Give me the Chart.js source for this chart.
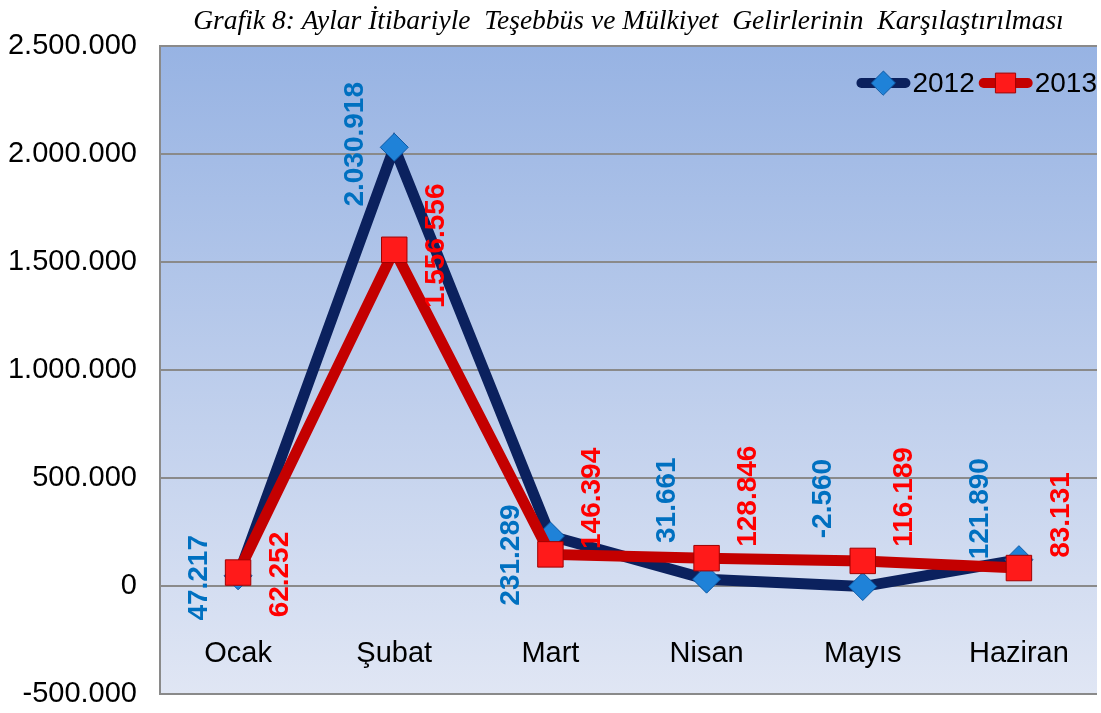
<!DOCTYPE html>
<html>
<head>
<meta charset="utf-8">
<script src="https://cdn.jsdelivr.net/npm/chart.js@4.4.1/dist/chart.umd.min.js"></script>
<style>
  body { margin: 0; background: #ffffff; }
  #grafik { display: block; }
</style>
</head>
<body>
<canvas id="grafik" width="1101" height="713"></canvas>
<script>
// aylar ve degerler
var months = ['Ocak', 'Şubat', 'Mart', 'Nisan', 'Mayıs', 'Haziran'];
var values2012 = [47217, 2030918, 231289, 31661, -2560, 121890];
var values2013 = [62252, 1556556, 146394, 128846, 116189, 83131];
var seriesNames = ['2012', '2013'];
var yTicks = [-500000, 0, 500000, 1000000, 1500000, 2000000, 2500000];
var titleText = 'Grafik 8: Aylar İtibariyle  Teşebbüs ve Mülkiyet  Gelirlerinin  Karşılaştırılması';

// etiketlerin dikey kaydirmasi (piksel), excelde elle tasinmis gibi
var shift2012 = [2, -3, 19, -79, -88, -51];
var shift2013 = [2, -4, -56, -62, -64, -53];

var navy = '#0b215e';
var red = '#c40000';

function dotted(n) {
  var s = Math.abs(n).toString().replace(/\B(?=(\d{3})+(?!\d))/g, '.');
  return (n < 0 ? '-' : '') + s;
}

// arka plan gradyani
var bgPlugin = {
  id: 'bgPlugin',
  beforeDraw: function (chart) {
    var a = chart.chartArea;
    var ctx = chart.ctx;
    var g = ctx.createLinearGradient(0, a.top, 0, a.bottom);
    g.addColorStop(0, '#97b3e3');
    g.addColorStop(1, '#e0e6f4');
    ctx.save();
    ctx.fillStyle = g;
    ctx.fillRect(a.left, a.top, a.right - a.left, a.bottom - a.top);
    ctx.restore();
  }
};

// ay isimleri sifir cizgisinin altinda, alan icinde
var monthPlugin = {
  id: 'monthPlugin',
  afterDatasetsDraw: function (chart) {
    var ctx = chart.ctx;
    var xs = chart.scales.x;
    var y0 = chart.scales.y.getPixelForValue(0);
    ctx.save();
    ctx.font = '29px "Liberation Sans", Arial, sans-serif';
    ctx.fillStyle = '#000000';
    ctx.textAlign = 'center';
    ctx.textBaseline = 'middle';
    months.forEach(function (m, i) {
      ctx.fillText(m, xs.getPixelForValue(i), y0 + 68);
    });
    ctx.restore();
  }
};

// dikey deger etiketleri
var labelPlugin = {
  id: 'labelPlugin',
  afterDatasetsDraw: function (chart) {
    var ctx = chart.ctx;
    var sets = [
      { meta: chart.getDatasetMeta(0), vals: values2012, shift: shift2012, dx: -40, color: '#0070c0' },
      { meta: chart.getDatasetMeta(1), vals: values2013, shift: shift2013, dx: 41, color: '#ff0000' }
    ];
    ctx.save();
    ctx.font = 'bold 28px "Liberation Sans", Arial, sans-serif';
    ctx.textAlign = 'center';
    ctx.textBaseline = 'middle';
    sets.forEach(function (s) {
      s.meta.data.forEach(function (pt, i) {
        ctx.save();
        ctx.translate(pt.x + s.dx, pt.y + s.shift[i]);
        ctx.rotate(-Math.PI / 2);
        ctx.fillStyle = s.color;
        ctx.fillText(dotted(s.vals[i]), 0, 1);
        ctx.restore();
      });
    });
    ctx.restore();
  }
};

// lejant sag ustte, alan icinde
var legendPlugin = {
  id: 'legendPlugin',
  afterDraw: function (chart) {
    var ctx = chart.ctx;
    var a = chart.chartArea;
    var y = a.top + 37;
    ctx.save();
    ctx.font = '28px "Liberation Sans", Arial, sans-serif';
    ctx.textBaseline = 'middle';
    ctx.textAlign = 'left';
    var w13 = ctx.measureText(seriesNames[1]).width;
    var w12 = ctx.measureText(seriesNames[0]).width;
    var x = a.right - w13;
    var items = [
      { name: seriesNames[1], line: red, style: 'rect', fill: '#ff1a1a', border: '#a00000', tx: x },
      { name: seriesNames[0], line: navy, style: 'rectRot', fill: '#1f82d8', border: '#0c5aa6', tx: x - 58 - w12 - 2 }
    ];
    items.forEach(function (it) {
      var lx1 = it.tx - 56, lx2 = it.tx - 2;
      ctx.strokeStyle = it.line;
      ctx.lineWidth = 10;
      ctx.lineCap = 'round';
      ctx.beginPath();
      ctx.moveTo(lx1 + 5, y);
      ctx.lineTo(lx2 - 5, y);
      ctx.stroke();
      ctx.fillStyle = it.fill;
      ctx.strokeStyle = it.border;
      ctx.lineWidth = 1;
      Chart.helpers.drawPoint(ctx, { pointStyle: it.style, radius: it.style === 'rect' ? 14 : 12, borderWidth: 1 }, (lx1 + lx2) / 2, y);
      ctx.fillStyle = '#000000';
      ctx.fillText(it.name, it.tx, y + 1);
    });
    ctx.restore();
  }
};

function noPad(scale) {
  scale.paddingTop = 0;
  scale.paddingBottom = 0;
  scale.paddingLeft = 0;
  scale.paddingRight = 0;
}

new Chart(document.getElementById('grafik').getContext('2d'), {
  type: 'line',
  data: {
    labels: months,
    datasets: [
      {
        label: seriesNames[0],
        data: values2012,
        borderColor: navy,
        borderWidth: 11,
        pointStyle: 'rectRot',
        pointRadius: 14,
        pointHoverRadius: 14,
        pointBackgroundColor: '#1f82d8',
        pointBorderColor: '#0c5aa6',
        pointBorderWidth: 1,
        tension: 0,
        order: 1
      },
      {
        label: seriesNames[1],
        data: values2013,
        borderColor: red,
        borderWidth: 11,
        pointStyle: 'rect',
        pointRadius: 18,
        pointHoverRadius: 18,
        pointBackgroundColor: '#ff1a1a',
        pointBorderColor: '#a00000',
        pointBorderWidth: 1,
        tension: 0,
        order: 0
      }
    ]
  },
  options: {
    responsive: false,
    animation: false,
    layout: { autoPadding: false, padding: { left: 0, right: 4, bottom: 19, top: 0 } },
    plugins: {
      legend: { display: false },
      tooltip: { enabled: false },
      title: {
        display: true,
        text: titleText,
        fullSize: false,
        color: '#000000',
        font: { family: '"Liberation Serif", "Times New Roman", serif', size: 27.5, style: 'italic', weight: 'normal' },
        padding: { top: 5, bottom: 8 }
      }
    },
    scales: {
      x: {
        position: { y: 0 },
        offset: true,
        afterFit: noPad,
        grid: { display: false, drawTicks: false },
        border: { display: false },
        ticks: { display: false }
      },
      y: {
        min: -500000,
        max: 2500000,
        afterBuildTicks: function (scale) {
          scale.ticks = yTicks.map(function (v) { return { value: v }; });
        },
        afterFit: function (scale) {
          scale.width = 160;
          noPad(scale);
        },
        grid: { color: '#8a8a8a', lineWidth: 2, drawTicks: false },
        border: { display: true, color: '#8a8a8a', width: 2 },
        ticks: {
          color: '#000000',
          padding: 23,
          font: { family: '"Liberation Sans", Arial, sans-serif', size: 29 },
          callback: function (v) { return dotted(v); }
        }
      }
    }
  },
  plugins: [bgPlugin, monthPlugin, labelPlugin, legendPlugin]
});
</script>
</body>
</html>
